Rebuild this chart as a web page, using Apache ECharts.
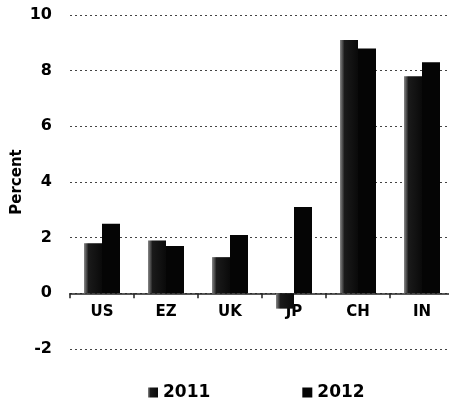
<!DOCTYPE html>
<html>
<head>
<meta charset="utf-8">
<script src="https://cdn.jsdelivr.net/npm/echarts@6/dist/echarts.min.js"></script>
<style>
	html, body {margin: 0; padding: 0; background: #fff;}
	#container {width: 449px; height: 400px;}
</style>
</head>
<body>
<div id="container"></div>
<script>
const Categories = ['US', 'EZ', 'UK', 'JP', 'CH', 'IN'];
const Series2011 = [1.8, 1.9, 1.3, -0.55, 9.1, 7.8];
const Series2012 = [2.5, 1.7, 2.1, 3.1, 8.8, 8.3];
const YTicks = [-2, 0, 2, 4, 6, 8, 10];

const font = 'DejaVu Sans';
// grid: 12 units over 334px, zero sits 2 units above the bottom
const gridHeight = 334;
const zeroOffset = gridHeight * (0 - YTicks[0]) / (YTicks[YTicks.length - 1] - YTicks[0]);
const option = {
	animation: false,
	textStyle: {fontFamily: font},
	grid: {left: 70, top: 15, width: 384, height: gridHeight, outerBoundsMode: 'none'},
	legend: {
		data: ['2011', '2012'], top: 384, left: 148, itemGap: 92, padding: 0,
		icon: 'rect', itemWidth: 10, itemHeight: 10,
		textStyle: {fontFamily: font, fontWeight: 'bold', fontSize: 17, color: '#000'}
	},
	xAxis: {
		type: 'category', data: Categories, offset: -zeroOffset,
		axisLine: {onZero: false, lineStyle: {color: '#222', width: 1.5}},
		axisTick: {show: true, length: 5, lineStyle: {color: '#222', width: 1.5}},
		axisLabel: {margin: 11, fontFamily: font, fontWeight: 'bold', fontSize: 15, color: '#000'}
	},
	yAxis: {
		type: 'value', min: YTicks[0], max: YTicks[YTicks.length - 1], interval: 2,
		name: 'Percent', nameLocation: 'middle', nameGap: 45, nameRotate: 90, nameMoveOverlap: false,
		nameTextStyle: {fontFamily: font, fontWeight: 'bold', fontSize: 15, color: '#000'},
		axisLine: {show: false}, axisTick: {show: false},
		axisLabel: {margin: 18, fontFamily: font, fontWeight: 'bold', fontSize: 16, color: '#000'},
		splitLine: {lineStyle: {color: '#444', type: [2, 3], width: 1}}
	},
	series: [{
		name: '2011', type: 'bar', data: Series2011, barWidth: 18, barGap: '0%',
		itemStyle: {
			color: {
				type: 'linear', x: 0, y: 0, x2: 1, y2: 0,
				colorStops: [{offset: 0, color: '#888'}, {offset: 0.25, color: '#1a1a1a'}, {offset: 1, color: '#0a0a0a'}]
			}
		}
	}, {
		name: '2012', type: 'bar', data: Series2012, barWidth: 18,
		itemStyle: {color: '#050505'}
	}]
};
echarts.init(document.getElementById('container')).setOption(option);
</script>
</body>
</html>
